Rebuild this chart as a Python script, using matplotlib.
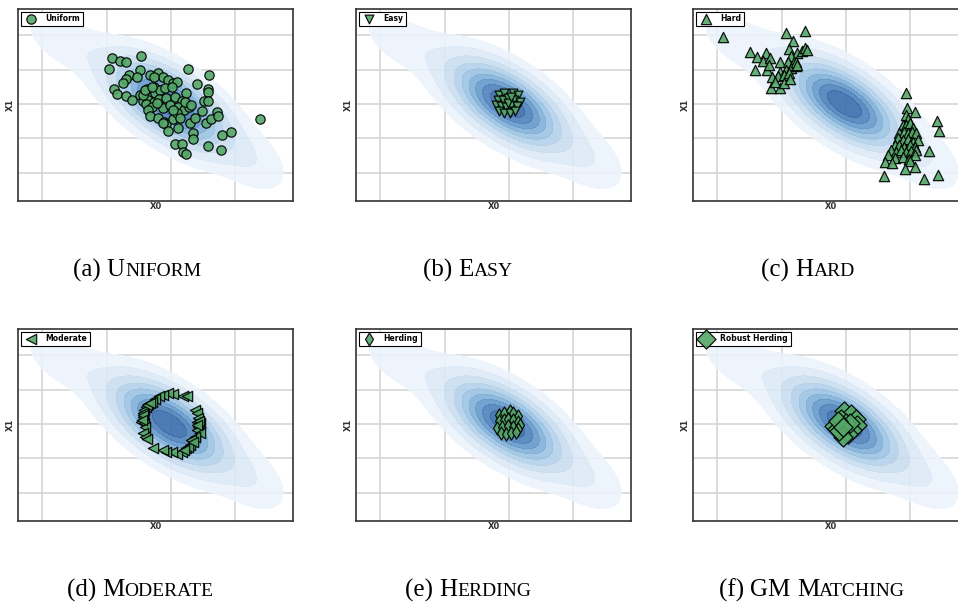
import numpy as np
import matplotlib
matplotlib.use("Agg")
import matplotlib.pyplot as plt
from matplotlib.offsetbox import TextArea, HPacker, AnnotationBbox

# ---------------- background density (mixture) ----
mix_weight = [0.83, 0.10, 0.035, 0.035]
mix_mean_x = [-0.02, -0.15, -1.70, 1.30]
mix_mean_y = [0.00, 0.05, 1.85, -1.70]
mix_sd_x = [0.52, 1.00, 0.40, 0.35]
mix_sd_y = [0.76, 1.30, 0.55, 0.60]
mix_rho = [-0.62, -0.85, -0.5, -0.4]

# ---------------- selected samples per method --------------------------------
uniform_x = [-0.91, -0.79, -0.70, -0.47, -0.97, -0.48, 0.26, 0.59, -0.66, -0.70,
             -0.53, -0.33, -0.20, -0.12, -0.27, -0.04, 0.03, 0.09, 0.40, -0.88,
             -0.84, -0.70, -0.61, -0.48, -0.38, -0.26, -0.25, -0.17, -0.09, 0.01,
             0.24, 0.58, 0.57, -0.44, -0.36, -0.27, -0.18, -0.07, 0.07, 0.17,
             0.51, 0.58, -0.39, -0.30, -0.13, -0.02, 0.11, 0.20, 0.28, 0.49,
             0.71, -0.35, -0.33, -0.20, -0.11, -0.07, 0.04, 0.09, 0.14, 0.30,
             0.37, 0.54, 0.63, 0.73, 1.39, -0.04, 0.11, 0.34, 0.34, 0.80,
             0.93, 0.07, 0.18, 0.19, 0.24, 0.58, 0.78, -0.12, 0.04, -0.22,
             -0.75, 0.22, 0.31, -0.43, -0.40, -0.30]
uniform_y = [1.35, 1.26, 1.21, 1.40, 1.01, 1.00, 1.03, 0.83, 0.83, 0.73,
             0.78, 0.83, 0.91, 0.78, 0.77, 0.70, 0.60, 0.65, 0.57, 0.44,
             0.29, 0.23, 0.12, 0.26, 0.43, 0.49, 0.31, 0.41, 0.46, 0.48,
             0.31, 0.44, 0.36, 0.10, 0.12, 0.07, 0.14, 0.17, 0.19, 0.10,
             0.09, 0.10, 0.00, -0.08, -0.13, -0.03, -0.08, -0.17, -0.10, -0.20,
             -0.22, -0.17, -0.34, -0.42, -0.51, -0.58, -0.45, -0.27, -0.42, -0.54,
             -0.42, -0.56, -0.45, -0.35, -0.45, -0.79, -0.71, -0.85, -1.03, -0.90,
             -0.81, -1.17, -1.17, -1.39, -1.46, -1.21, -1.34, -0.56, -0.17, 0.02,
             0.60, 0.07, -0.03, 0.26, 0.41, 0.50]

easy_x = [-0.15, -0.07, 0.06, 0.14, -0.17, -0.09, -0.02, 0.08, 0.17, -0.20,
          -0.12, -0.04, 0.04, 0.12, -0.15, -0.07, 0.01, 0.10, -0.02, 0.04]
easy_y = [0.26, 0.31, 0.33, 0.26, 0.12, 0.12, 0.17, 0.12, 0.07, -0.03,
          -0.06, -0.08, -0.03, -0.06, -0.19, -0.27, -0.25, -0.19, 0.02, 0.21]

hard_x = [-1.92, -1.49, -1.39, -1.25, -1.29, -1.18, -1.42, -1.23, -1.20, -1.03,
          -0.94, -0.64, -0.83, -0.89, -0.76, -0.68, -0.64, -0.61, -0.86, -0.90,
          -0.81, -1.02, -0.94, -0.86, -0.78, -1.15, -1.06, -0.96, -0.89, -1.17,
          -1.03, -1.11, -0.96, -0.87, -0.78, -0.76,
          0.94, 0.95, 1.08, 1.42, 1.45, 0.94, 0.96, 0.89, 0.93, 0.99,
          1.04, 0.83, 0.90, 0.96, 1.03, 1.09, 0.81, 0.89, 0.96, 1.04,
          1.12, 0.76, 0.83, 0.91, 0.99, 1.07, 0.70, 0.78, 0.86, 0.94,
          1.02, 1.09, 0.65, 0.76, 0.89, 0.98, 1.07, 0.61, 0.72, 0.99,
          1.30, 0.60, 0.92, 1.07, 1.22, 1.43]
hard_y = [1.96, 1.52, 1.36, 1.48, 1.25, 1.33, 0.99, 0.99, 1.12, 1.23,
          2.06, 2.11, 1.84, 1.59, 1.48, 1.55, 1.62, 1.57, 1.38, 1.23,
          1.23, 0.94, 0.99, 1.04, 1.09, 0.78, 0.80, 0.84, 0.89, 0.46,
          0.46, 0.65, 0.60, 0.72, 1.23, 1.14,
          0.33, -0.13, -0.22, -0.49, -0.78, -0.32, -0.45, -0.61, -0.61, -0.56,
          -0.71, -0.85, -0.81, -0.85, -0.81, -0.85, -1.00, -1.05, -1.03, -1.10,
          -1.05, -1.19, -1.19, -1.24, -1.19, -1.24, -1.34, -1.39, -1.34, -1.39,
          -1.36, -1.34, -1.49, -1.58, -1.53, -1.61, -1.49, -1.68, -1.73, -1.65,
          -1.36, -2.09, -1.90, -1.84, -2.19, -2.07]

moderate_x = [0.03, -0.04, -0.12, -0.18, -0.25, -0.30, -0.35, -0.39, -0.42, -0.43,
              -0.44, -0.46, -0.42, -0.40, 0.19, 0.25, 0.37, 0.40, 0.42, 0.40,
              0.45, 0.42, 0.40, 0.45, 0.37, 0.32, 0.30, 0.23, 0.17, 0.09,
              0.01, -0.07, -0.12, -0.28, -0.43, -0.40, -0.38, -0.38, -0.33, -0.44,
              -0.45, 0.43, 0.41, 0.27, 0.20, 0.35]
moderate_y = [0.87, 0.91, 0.84, 0.80, 0.72, 0.65, 0.58, 0.50, 0.41, 0.31,
              0.19, 0.07, 0.02, -0.08, 0.80, 0.82, 0.41, 0.31, 0.17, 0.07,
              0.02, -0.08, -0.17, -0.27, -0.37, -0.47, -0.61, -0.71, -0.81, -0.87,
              -0.81, -0.81, -0.76, -0.71, -0.27, -0.39, -0.45, 0.55, 0.62, 0.25,
              0.12, 0.10, -0.02, -0.66, -0.76, -0.52]

herding_x = [-0.15, -0.07, 0.01, 0.07, 0.14, -0.15, -0.08, -0.01, 0.06, 0.14,
             0.18, -0.18, -0.10, -0.02, 0.06, 0.14, -0.13, -0.05, 0.03, 0.11]
herding_y = [0.27, 0.32, 0.37, 0.32, 0.22, 0.08, 0.11, 0.13, 0.11, 0.05,
             -0.02, -0.12, -0.09, -0.07, -0.09, -0.15, -0.26, -0.28, -0.26, -0.24]

robust_x = [-0.03, 0.08, 0.16, 0.18, 0.10, 0.03, -0.04, -0.18, -0.14, -0.10,
            -0.08, 0.00, 0.07, -0.12, -0.05]
robust_y = [0.37, 0.30, 0.15, -0.02, -0.17, -0.28, -0.38, -0.07, -0.15, -0.21,
            0.15, 0.03, 0.03, 0.08, -0.09]

panel_labels = ["Uniform", "Easy", "Hard", "Moderate", "Herding", "Robust Herding"]
panel_markers = ["o", "v", "^", "<", "d", "D"]
panel_sizes = [45, 40, 55, 55, 45, 95]
caption_tags = ["(a) ", "(b) ", "(c) ", "(d) ", "(e) ", "(f) "]
caption_words = [[("U", "NIFORM")], [("E", "ASY")], [("H", "ARD")],
                 [("M", "ODERATE")], [("H", "ERDING")], [("GM", ""), ("M", "ATCHING")]]

xs = [uniform_x, easy_x, hard_x, moderate_x, herding_x, robust_x]
ys = [uniform_y, easy_y, hard_y, moderate_y, herding_y, robust_y]

band_colors = ["#ebf3fb", "#dce9f6", "#cadef0", "#b4d2ea", "#9cc3e3",
               "#81b1d9", "#6699cb", "#4f82bb", "#3b6dab"]

# ---------------- density grid ------------------------------------------------
gx = np.linspace(-2.6, 2.2, 320)
gy = np.linspace(-3.1, 3.0, 320)
GX, GY = np.meshgrid(gx, gy)
dens = np.zeros_like(GX)
for w, mx, my, sx, sy, r in zip(mix_weight, mix_mean_x, mix_mean_y, mix_sd_x, mix_sd_y, mix_rho):
    zx = (GX - mx) / sx
    zy = (GY - my) / sy
    q = (zx ** 2 - 2 * r * zx * zy + zy ** 2) / (1 - r ** 2)
    dens += w * np.exp(-0.5 * q) / (2 * np.pi * sx * sy * np.sqrt(1 - r ** 2))

iso = np.linspace(0.05, 1, 10)
sv = np.sort(dens.ravel())[::-1]
cum = np.cumsum(sv) / sv.sum()
lev = np.take(sv, np.searchsorted(cum, 1 - iso), mode="clip")
lev = np.unique(lev)

# ---------------- figure ------------------------------------------------------
W, H = 958, 603
fig = plt.figure(figsize=(W / 100, H / 100), dpi=100)
col_left = [18, 356, 693]
row_top = [9, 329]
aw, ah = 275, 192

for i in range(6):
    r, c = divmod(i, 3)
    ax = fig.add_axes([col_left[c] / W, 1 - (row_top[r] + ah) / H, aw / W, ah / H])
    ax.set_xlim(-2.38, 1.90)
    ax.set_ylim(-2.82, 2.76)
    ax.set_xticks([-2, -1, 0, 1])
    ax.set_yticks([-2, -1, 0, 1, 2])
    ax.grid(True, color="#d2d2d2", lw=1.1)
    ax.set_axisbelow(True)
    ax.tick_params(length=0, labelbottom=False, labelleft=False)
    for s in ax.spines.values():
        s.set_color("#333333")
        s.set_linewidth(1.2)
    ax.contourf(GX, GY, dens, levels=lev, colors=band_colors[:len(lev) - 1],
                alpha=0.9, zorder=1)
    ax.scatter(xs[i], ys[i], marker=panel_markers[i], s=panel_sizes[i],
               facecolor="#55a868", edgecolor="black", linewidths=0.9,
               alpha=0.9, zorder=3, label=panel_labels[i])
    ax.set_xlabel("X0", fontsize=6, fontweight="bold", color="#333333", labelpad=1)
    ax.set_ylabel("X1", fontsize=6, fontweight="bold", color="#333333", labelpad=2)
    leg = ax.legend(loc="upper left", fancybox=False, edgecolor="black",
                    prop={"size": 5.5, "weight": "bold"}, borderpad=0.35,
                    handletextpad=0.9, borderaxespad=0.35, framealpha=1)
    leg.get_frame().set_linewidth(0.8)
    leg.set_zorder(5)

cap_x = [137, 468, 808, 140, 468, 812]
cap_y = [270, 270, 270, 590, 590, 590]
big, small = 18, 14
for i in range(6):
    parts = [TextArea(caption_tags[i], textprops=dict(fontsize=big, family="Liberation Serif"))]
    for j, (cap, rest) in enumerate(caption_words[i]):
        if j > 0:
            parts.append(TextArea(" ", textprops=dict(fontsize=big, family="Liberation Serif")))
        parts.append(TextArea(cap, textprops=dict(fontsize=big, family="Liberation Serif")))
        if rest:
            parts.append(TextArea(rest, textprops=dict(fontsize=small, family="Liberation Serif")))
    box = HPacker(children=parts, align="baseline", pad=0, sep=0)
    ab = AnnotationBbox(box, (cap_x[i] / W, 1 - cap_y[i] / H), xycoords="figure fraction",
                        frameon=False, box_alignment=(0.5, 0.5))
    fig.add_artist(ab)

fig.savefig("out.png", dpi=100)
